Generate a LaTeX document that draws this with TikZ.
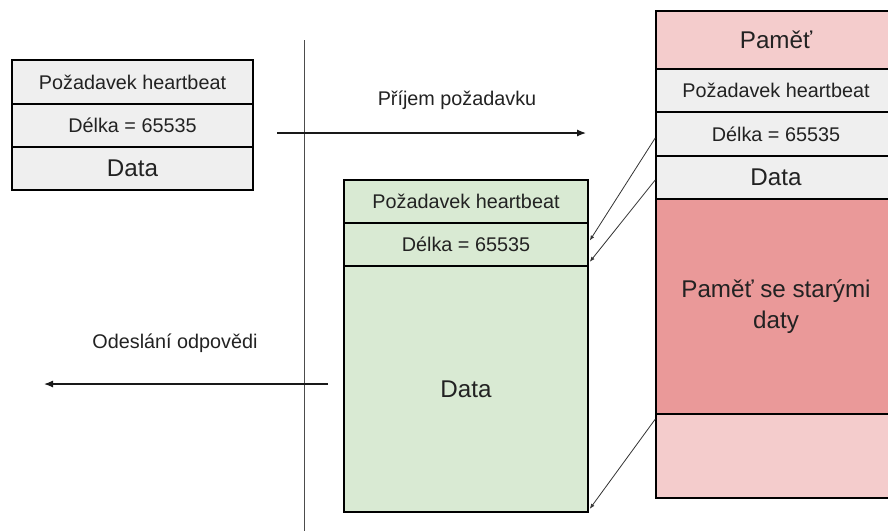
\documentclass[tikz,border=0pt]{standalone}
\usepackage{fontspec}
\setmainfont{Liberation Sans}
\usetikzlibrary{arrows.meta,calc}
\definecolor{cellgrey}{HTML}{EFEFEF}
\definecolor{cellgreen}{HTML}{D9EAD3}
\definecolor{cellpink}{HTML}{F4CCCC}
\definecolor{cellred}{HTML}{EA9999}
\definecolor{txt}{HTML}{222222}
\tikzset{
  cell/.style={draw=black, line width=1.6pt, inner sep=0pt, align=center, text=txt, font=\fontsize{19.8}{23}\selectfont},
  bigcell/.style={cell, font=\fontsize{24.2}{31}\selectfont},
  lbl/.style={text=txt, font=\fontsize{19.8}{23}\selectfont, inner sep=0pt},
  ptr/.style={draw=black!80, line width=0.8pt, -{Latex[length=5pt,width=4pt]}},
  flow/.style={draw=black!90, line width=1.2pt, -{Latex[length=9pt,width=7pt]}},
}
\begin{document}
\begin{tikzpicture}[x=1pt,y=-1pt]
\useasboundingbox (0,0) rectangle (888,531);
\clip (0,0) rectangle (888,531);
% left box
\node[cell, fill=cellgrey, minimum width=241, minimum height=44] (lreq) at (132.5,82) {Požadavek heartbeat};
\node[cell, fill=cellgrey, minimum width=241, minimum height=43] (llen) at (132.5,125.5) {Délka = 65535};
\node[bigcell, fill=cellgrey, minimum width=241, minimum height=43] (ldata) at (132.5,168.5) {Data};
% separator
\draw[draw=black!70, line width=0.9pt] (304,40) coordinate (vtop) -- (304,531) coordinate (vbot);
% green box
\node[cell, fill=cellgreen, minimum width=244, minimum height=43] (greq) at (466,201.5) {Požadavek heartbeat};
\node[cell, fill=cellgreen, minimum width=244, minimum height=43] (glen) at (466,244.5) {Délka = 65535};
\node[bigcell, fill=cellgreen, minimum width=244, minimum height=246] (gdata) at (466,389) {Data};
% right box (extends past the right edge)
\node[bigcell, fill=cellpink, minimum width=240, minimum height=58] (rmem) at (776,40) {Paměť};
\node[cell, fill=cellgrey, minimum width=240, minimum height=43] (rreq) at (776,90.5) {Požadavek heartbeat};
\node[cell, fill=cellgrey, minimum width=240, minimum height=44] (rlen) at (776,134) {Délka = 65535};
\node[bigcell, fill=cellgrey, minimum width=240, minimum height=43] (rdata) at (776,177.5) {Data};
\node[bigcell, fill=cellred, minimum width=240, minimum height=215] (rold) at (776,306.5) {Paměť se starými\\daty};
\node[cell, fill=cellpink, minimum width=240, minimum height=84] (rrest) at (776,456) {};
% flows
\coordinate (a1s) at (277,133);
\coordinate (a1e) at (586,133);
\draw[flow] (a1s) -- (a1e);
\node[lbl] (lin) at (457,100) {Příjem požadavku};
\coordinate (a2s) at (328,384);
\coordinate (a2e) at (44,384);
\draw[flow] (a2s) -- (a2e);
\node[lbl] (lout) at (175,343) {Odeslání odpovědi};
% pointers
\draw[ptr] ($(rlen.west)+(0,4)$) -- ($(glen.east)+(1,-4)$);
\draw[ptr] ($(rdata.west)+(0,2.5)$) -- ($(glen.south east)+(1,-5)$);
\draw[ptr] ($(rrest.north west)+(0,6)$) -- ($(gdata.south east)+(1,-4)$);
\end{tikzpicture}
\end{document}
